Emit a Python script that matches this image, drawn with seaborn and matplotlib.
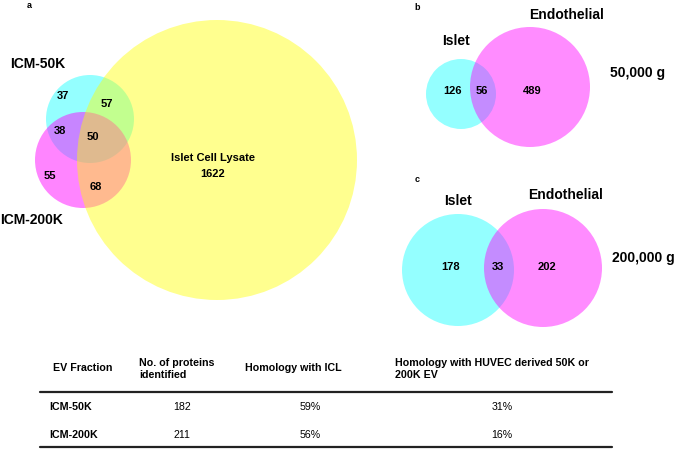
import numpy as np
import matplotlib
matplotlib.use('Agg')
import matplotlib.pyplot as plt
import seaborn as sns
from matplotlib.patches import Circle

sns.set_theme(style='white')
plt.rcParams['font.family'] = ['Liberation Sans', 'DejaVu Sans']

# panel a: ICM-50K / ICM-200K / islet cell lysate
a_sets = ['ICM-50K', 'ICM-200K', 'Islet Cell Lysate']
a_counts = [37, 57, 38, 50, 55, 68, 1622]  # 50K only, 50K&ICL, 50K&200K, all, 200K only, 200K&ICL, ICL only

# panel b: 50,000 g
b_sets = ['Islet', 'Endothelial']
b_counts = [126, 56, 489]

# panel c: 200,000 g
c_sets = ['Islet', 'Endothelial']
c_counts = [178, 33, 202]

# table
tab_header = ['EV Fraction', 'No. of proteins\nidentified', 'Homology with ICL',
              'Homology with HUVEC derived 50K or\n200K EV']
tab_rows = ['ICM-50K', 'ICM-200K']
tab_nprot = [182, 211]
tab_icl = ['59%', '56%']
tab_huvec = ['31%', '16%']

cyan = (0.0, 1.0, 1.0)
magenta = (1.0, 0.0, 1.0)
yellow = (1.0, 1.0, 0.0)

fig = plt.figure(figsize=(6.75, 4.5), dpi=100)
ax = fig.add_axes([0, 0, 1, 1])
ax.set_xlim(0, 675)
ax.set_ylim(450, 0)
ax.set_axis_off()


def circ(x, y, r, col, a):
    ax.add_patch(Circle((x, y), r, facecolor=col, edgecolor='none', alpha=a))


def txt(x, y, s, size, bold=True, ha='center'):
    ax.text(x, y, s, fontsize=size, fontweight='bold' if bold else 'normal',
            ha=ha, va='center', color='black', zorder=5)


# ---- panel a (yellow drawn last so overlaps blend like the original)
circ(90, 119, 44, cyan, 0.42)
circ(83, 160, 48, magenta, 0.48)
circ(217, 160, 140, yellow, 0.44)
txt(29, 5, 'a', 6.5)
txt(38, 64, a_sets[0], 10)
txt(32, 220, a_sets[1], 10)
a_pos = [(63, 96), (107, 104), (60, 131), (93, 137), (50, 176), (96, 187)]
for (x, y), v in zip(a_pos, a_counts[:6]):
    txt(x, y, str(v), 8)
txt(213, 158, a_sets[2], 8)
txt(213, 174, str(a_counts[6]), 8)

# ---- panel b
circ(461, 94, 35, cyan, 0.42)
circ(530, 87, 60, magenta, 0.45)
txt(417, 8, 'b', 6.5)
txt(456, 41, b_sets[0], 10)
txt(567, 15, b_sets[1], 10)
for x, v in zip([452, 482, 532], b_counts):
    txt(x, 91, str(v), 8)
txt(638, 73, '50,000 g', 10)

# ---- panel c
circ(458, 270, 56, cyan, 0.42)
circ(543, 268, 59, magenta, 0.45)
txt(417, 179, 'c', 6.5)
txt(458, 201, c_sets[0], 10)
txt(566, 195, c_sets[1], 10)
for x, v in zip([451, 498, 547], c_counts):
    txt(x, 267, str(v), 8)
txt(643, 258, '200,000 g', 10)

# ---- table
ax.plot([40, 612], [392, 392], color='#222222', lw=1.6)
ax.plot([40, 612], [447, 447], color='#222222', lw=1.6)
fs = 7.7
txt(83, 368, tab_header[0], fs)
txt(139, 369, tab_header[1], fs, ha='left')
txt(245, 368, tab_header[2], fs, ha='left')
txt(395, 369, tab_header[3], fs, ha='left')
for y, lab, n, h1, h2 in zip([407, 435], tab_rows, tab_nprot, tab_icl, tab_huvec):
    txt(49, y, lab, fs, ha='left')
    txt(182, y, str(n), fs, bold=False)
    txt(310, y, h1, fs, bold=False)
    txt(502, y, h2, fs, bold=False)

fig.savefig('out.png', dpi=100)
